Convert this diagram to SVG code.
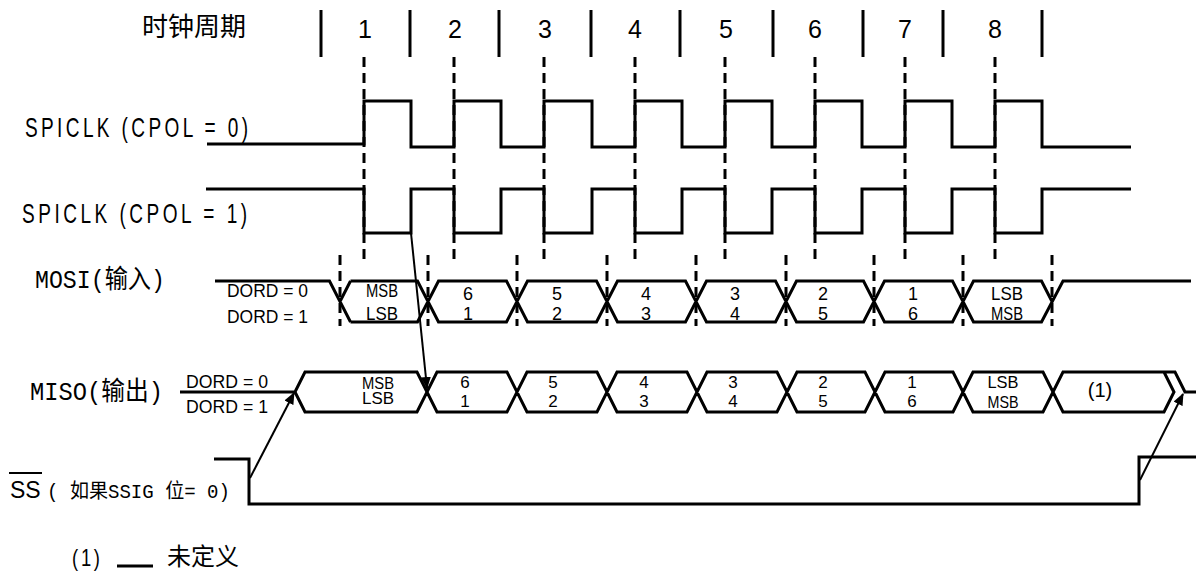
<svg xmlns="http://www.w3.org/2000/svg" width="1196" height="572" viewBox="0 0 1196 572">
<style>
.w{fill:none;stroke:#000;stroke-width:3;stroke-linejoin:miter;stroke-linecap:butt}
.d{fill:none;stroke:#000;stroke-width:3;stroke-dasharray:10 6}
.bar{stroke:#000;stroke-width:3}
.a{fill:none;stroke:#000;stroke-width:2}
.lbl{font-family:"Liberation Mono","Noto Sans CJK SC",monospace;fill:#000}
.sans{font-family:"Liberation Sans",Arial,sans-serif;fill:#000}
.cjk{font-family:"Noto Sans CJK SC",sans-serif;fill:#000}
.num{font-family:"Liberation Sans",Arial,sans-serif;font-size:18px;fill:#000;text-anchor:middle}
.nm{font-family:"Liberation Sans",Arial,sans-serif;font-size:17px;fill:#000;text-anchor:middle}
</style>
<defs>
<marker id="ah" markerUnits="userSpaceOnUse" markerWidth="12" markerHeight="10" refX="11" refY="5" orient="auto">
<path d="M0,0 L12,5 L0,10 Z" fill="#000"/>
</marker>
</defs>

<g id="header">
<text class="cjk" x="142" y="36" font-size="26">时钟周期</text>
<g class="bar">
<line x1="321" y1="10" x2="321" y2="57"/>
<line x1="410" y1="10" x2="410" y2="57"/>
<line x1="499" y1="10" x2="499" y2="57"/>
<line x1="591" y1="10" x2="591" y2="57"/>
<line x1="680" y1="10" x2="680" y2="57"/>
<line x1="773" y1="10" x2="773" y2="57"/>
<line x1="863" y1="10" x2="863" y2="57"/>
<line x1="943" y1="10" x2="943" y2="57"/>
<line x1="1042" y1="10" x2="1042" y2="57"/>
</g>
<g class="sans" font-size="25" text-anchor="middle">
<text x="365" y="38">1</text>
<text x="455" y="38">2</text>
<text x="545" y="38">3</text>
<text x="635" y="38">4</text>
<text x="726" y="38">5</text>
<text x="815" y="38">6</text>
<text x="905" y="38">7</text>
<text x="995" y="38">8</text>
</g>
</g>

<g id="guides">
<g class="d">
<line x1="364" y1="57" x2="364" y2="262"/>
<line x1="454" y1="57" x2="454" y2="262"/>
<line x1="544" y1="57" x2="544" y2="262"/>
<line x1="635" y1="57" x2="635" y2="262"/>
<line x1="725" y1="57" x2="725" y2="262"/>
<line x1="815" y1="57" x2="815" y2="262"/>
<line x1="905" y1="57" x2="905" y2="262"/>
<line x1="995" y1="57" x2="995" y2="262"/>
<line x1="340" y1="255" x2="340" y2="326"/>
<line x1="428" y1="255" x2="428" y2="326"/>
<line x1="517" y1="255" x2="517" y2="326"/>
<line x1="607" y1="255" x2="607" y2="326"/>
<line x1="696" y1="255" x2="696" y2="326"/>
<line x1="786" y1="255" x2="786" y2="326"/>
<line x1="874" y1="255" x2="874" y2="326"/>
<line x1="963" y1="255" x2="963" y2="326"/>
<line x1="1052" y1="255" x2="1052" y2="326"/>
</g>
</g>

<g id="spiclk0">
<text class="sans" transform="translate(25,137) scale(0.68,1)" x="0" y="0" font-size="28" textLength="328" lengthAdjust="spacing">SPICLK (CPOL = 0)</text>
<path class="w" d="M207,144 H364 V101 H411 V147 H454 V101 H501 V147 H544 V101 H592 V147 H635 V101 H682 V147 H725 V101 H772 V147 H815 V101 H862 V147 H905 V101 H952 V147 H995 V101 H1042 V147 H1131"/>
</g>

<g id="spiclk1">
<text class="sans" transform="translate(22,223) scale(0.68,1)" x="0" y="0" font-size="28" textLength="331" lengthAdjust="spacing">SPICLK (CPOL = 1)</text>
<path class="w" d="M206,189 H364 V233 H411 V189 H454 V233 H501 V189 H544 V233 H592 V189 H635 V233 H682 V189 H725 V233 H772 V189 H815 V233 H862 V189 H905 V233 H952 V189 H995 V233 H1042 V189 H1131"/>
</g>

<g id="mosi">
<text class="lbl" x="35" y="288" font-size="26" textLength="130" lengthAdjust="spacingAndGlyphs">MOSI(输入)</text>
<text class="sans" x="227" y="297" font-size="19" textLength="81" lengthAdjust="spacingAndGlyphs">DORD = 0</text>
<text class="sans" x="227" y="323" font-size="19" textLength="81" lengthAdjust="spacingAndGlyphs">DORD = 1</text>
<path class="w" d="M215,281 H329.5 L350.5,322 M340,301.5 L350.5,281
M350.5,281 H417.5 L438.5,322 H506.5 L527.5,281 H596.5 L617.5,322 H685.5 L706.5,281 H775.5 L796.5,322 H863.5 L884.5,281 H952.5 L973.5,322 H1041.5 L1063,281 H1191
M350.5,322 H417.5 L438.5,281 H506.5 L527.5,322 H596.5 L617.5,281 H685.5 L706.5,322 H775.5 L796.5,281 H863.5 L884.5,322 H952.5 L973.5,281 H1041.5 L1052,301.5"/>
<text class="sans" x="382" y="297" font-size="18" text-anchor="middle" textLength="32" lengthAdjust="spacingAndGlyphs">MSB</text>
<text class="sans" x="382" y="320" font-size="18" text-anchor="middle" textLength="32" lengthAdjust="spacingAndGlyphs">LSB</text>
<text class="num" x="468" y="300">6</text><text class="num" x="468" y="320">1</text>
<text class="num" x="557" y="300">5</text><text class="num" x="557" y="320">2</text>
<text class="num" x="646" y="300">4</text><text class="num" x="646" y="320">3</text>
<text class="num" x="735" y="300">3</text><text class="num" x="735" y="320">4</text>
<text class="num" x="823" y="300">2</text><text class="num" x="823" y="320">5</text>
<text class="num" x="913" y="300">1</text><text class="num" x="913" y="320">6</text>
<text class="sans" x="1007" y="300" font-size="18" text-anchor="middle" textLength="32" lengthAdjust="spacingAndGlyphs">LSB</text>
<text class="sans" x="1007" y="320" font-size="18" text-anchor="middle" textLength="32" lengthAdjust="spacingAndGlyphs">MSB</text>
</g>

<g id="miso">
<text class="lbl" x="30" y="400" font-size="26" textLength="133" lengthAdjust="spacingAndGlyphs">MISO(输出)</text>
<text class="sans" x="186" y="388" font-size="19" textLength="82" lengthAdjust="spacingAndGlyphs">DORD = 0</text>
<text class="sans" x="186" y="413" font-size="19" textLength="82" lengthAdjust="spacingAndGlyphs">DORD = 1</text>
<path class="w" d="M180,392 H295 L305,372 H417 L437,412 H507 L527,372 H597 L617,412 H687 L707,372 H777 L797,412 H865 L885,372 H953 L973,412 H1043 L1063,372 H1175 L1185,392 H1196
M295,392 L305,412 H417 L437,372 H507 L527,412 H597 L617,372 H687 L707,412 H777 L797,372 H865 L885,412 H953 L973,372 H1043 L1063,412 H1164 L1174,392 L1164,372"/>
<text class="sans" x="378" y="389" font-size="16" text-anchor="middle" textLength="32" lengthAdjust="spacingAndGlyphs">MSB</text>
<text class="sans" x="378" y="404" font-size="16" text-anchor="middle" textLength="32" lengthAdjust="spacingAndGlyphs">LSB</text>
<text class="nm" x="465" y="388">6</text><text class="nm" x="465" y="407">1</text>
<text class="nm" x="553" y="388">5</text><text class="nm" x="553" y="407">2</text>
<text class="nm" x="644" y="388">4</text><text class="nm" x="644" y="407">3</text>
<text class="nm" x="733" y="388">3</text><text class="nm" x="733" y="407">4</text>
<text class="nm" x="823" y="388">2</text><text class="nm" x="823" y="407">5</text>
<text class="nm" x="912" y="388">1</text><text class="nm" x="912" y="407">6</text>
<text class="sans" x="1003" y="388" font-size="17" text-anchor="middle" textLength="31" lengthAdjust="spacingAndGlyphs">LSB</text>
<text class="sans" x="1003" y="408" font-size="17" text-anchor="middle" textLength="31" lengthAdjust="spacingAndGlyphs">MSB</text>
<text class="sans" x="1100" y="397" font-size="20" text-anchor="middle">(1)</text>
</g>

<g id="ss">
<text class="sans" x="10" y="498" font-size="23">SS</text>
<line x1="9" y1="473" x2="42" y2="473" stroke="#000" stroke-width="2"/>
<text class="lbl" x="47" y="498" font-size="20" textLength="183" lengthAdjust="spacingAndGlyphs">( 如果SSIG 位= 0)</text>
<path class="w" d="M214,459 H249 V504 H1139 V457 H1196"/>
</g>

<g id="connectors">
<line class="a" x1="250" y1="478" x2="294" y2="393" marker-end="url(#ah)"/>
<line class="a" x1="1140" y1="480" x2="1183" y2="394" marker-end="url(#ah)"/>
<line class="a" x1="411" y1="233" x2="427" y2="388" marker-end="url(#ah)"/>
</g>

<g id="footnote">
<text class="sans" transform="translate(72,566) scale(0.8,1)" x="0" y="0" font-size="23" textLength="35" lengthAdjust="spacing">(1)</text>
<line x1="117" y1="566" x2="153" y2="566" stroke="#000" stroke-width="3"/>
<text class="cjk" x="167" y="565" font-size="24">未定义</text>
</g>
</svg>
